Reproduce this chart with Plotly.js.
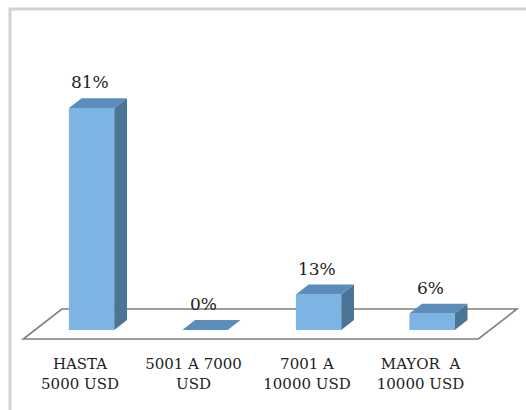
<!DOCTYPE html>
<html>
<head>
<meta charset="utf-8">
<script src="https://cdn.plot.ly/plotly-3.0.1.min.js"></script>
<style>html,body{margin:0;padding:0;background:#fff;}#chart{width:526px;height:410px;}</style>
</head>
<body>
<div id="chart"></div>
<script>
// ---- data ----
var categories = ["HASTA<br>5000 USD", "5001 A 7000<br>USD", "7001 A<br>10000 USD", "MAYOR  A<br>10000 USD"];
var values = [81, 0, 13, 6];
var labels = ["81%", "0%", "13%", "6%"];

// ---- geometry / style ----
var W = 526, H = 410;
var mL = 12, mR = 3, mT = 20, mB = 65;
var pxPerCat = 113.5, cat0px = 80;       // pixel of category 0
var pxPerPct = 2.74, floorPx = 339;      // pixel of floor front edge (y=0)
var kx = 0.34, ky = 10.95;               // oblique projection per depth unit
var d0 = 0.30, d1 = 0.63, hw = 0.2;      // bar depth range and half width
var floorX0 = -0.5, floorX1 = 3.51;
var serif = 'DejaVu Serif';

var xr = [(mL - cat0px) / pxPerCat, (W - mR - cat0px) / pxPerCat];
var yr = [(floorPx - (H - mB)) / pxPerPct, (floorPx - mT) / pxPerPct];
var pw = W - mL - mR, ph = H - mT - mB;
function px2paperX(p){ return (p - mL) / pw; }
function px2paperY(p){ return (H - mB - p) / ph; }

var colFront = '#7cb5e4', colTop = '#5b8dbb', colSide = '#4a7596';

var idx = values.map(function(v, i){ return i; });

// front faces as bars
var frontTrace = {
  type: 'bar',
  x: idx.map(function(i){ return i + d0 * kx; }),
  y: values,
  base: values.map(function(){ return d0 * ky; }),
  width: values.map(function(){ return 2 * hw; }),
  marker: {color: colFront, line: {width: 0}},
  hoverinfo: 'skip', showlegend: false
};

// side and top faces
var sx = [], sy = [], tx = [], ty = [];
values.forEach(function(v, i){
  var xa = i - hw, xb = i + hw;
  sx.push(xb + d0*kx, xb + d1*kx, xb + d1*kx, xb + d0*kx, xb + d0*kx, null);
  sy.push(d0*ky, d1*ky, v + d1*ky, v + d0*ky, d0*ky, null);
  tx.push(xa + d0*kx, xb + d0*kx, xb + d1*kx, xa + d1*kx, xa + d0*kx, null);
  ty.push(v + d0*ky, v + d0*ky, v + d1*ky, v + d1*ky, v + d0*ky, null);
});
var sideTrace = {type:'scatter', mode:'lines', x:sx, y:sy, fill:'toself', fillcolor:colSide,
  line:{width:0, color:colSide}, hoverinfo:'skip', showlegend:false};
var topTrace = {type:'scatter', mode:'lines', x:tx, y:ty, fill:'toself', fillcolor:colTop,
  line:{width:0, color:colTop}, hoverinfo:'skip', showlegend:false};

// data labels
var labelTrace = {
  type:'scatter', mode:'text',
  x: idx.map(function(i){ return i + d0*kx - 0.015; }),
  y: values.map(function(v){ return v + d1*ky + 5.1; }),
  text: labels, textposition:'middle center',
  textfont:{family: serif, size:17, color:'#222'},
  hoverinfo:'skip', showlegend:false, cliponaxis:false
};

var floorPath = 'M ' + floorX0 + ' 0 L ' + floorX1 + ' 0 L ' + (floorX1 + kx) + ' ' + ky +
  ' L ' + (floorX0 + kx) + ' ' + ky + ' Z';

var layout = {
  width: W, height: H,
  margin: {l: mL, r: mR, t: mT, b: mB, pad: 0},
  paper_bgcolor: '#fff', plot_bgcolor: 'rgba(0,0,0,0)',
  font: {family: serif},
  showlegend: false,
  barmode: 'overlay',
  xaxis: {range: xr, tickvals: idx, ticktext: categories, showgrid:false, zeroline:false,
    showline:false, ticks:'', ticklabelstandoff: 8, fixedrange:true,
    tickfont:{family: serif, size:15, color:'#222'}},
  yaxis: {range: yr, visible:false, fixedrange:true},
  shapes: [
    {type:'path', xref:'x', yref:'y', path: floorPath, fillcolor:'#ffffff',
     line:{color:'#7f7f7f', width:1.6}, layer:'below'},
    {type:'rect', xref:'paper', yref:'paper', x0:px2paperX(10), x1:px2paperX(560),
     y0:px2paperY(460), y1:px2paperY(9), line:{color:'#d2d2d2', width:3}, layer:'below'}
  ]
};

Plotly.newPlot('chart', [frontTrace, sideTrace, topTrace, labelTrace], layout, {displayModeBar:false, staticPlot:true});
</script>
</body>
</html>
